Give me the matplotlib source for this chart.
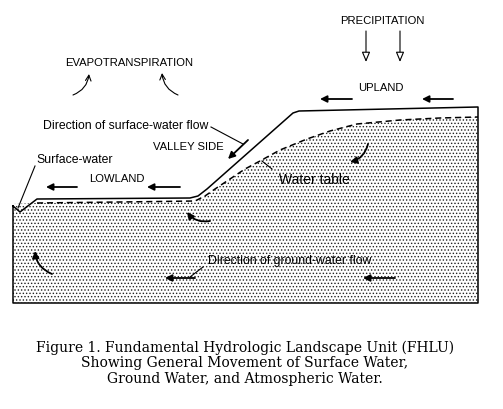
import matplotlib
matplotlib.use("Agg")
import matplotlib.pyplot as plt
from matplotlib.patches import Polygon, FancyArrowPatch

# outline of the landscape (pixel coords, y down)
land_x = [13, 20, 37, 190, 198, 207, 293, 299, 478, 478, 13, 13]
land_y = [207, 213, 200, 199, 197, 190, 114, 112, 108, 304, 304, 207]

# water table (dashed)
wt_x = [13, 37, 120, 195, 205, 215, 230, 245, 260, 280, 307, 330, 357, 400, 440, 478]
wt_y = [205, 204, 203, 202, 197, 190, 180, 170, 162, 151, 140, 132, 125, 121, 119, 118]

# straight flow arrows: (x_start, y_start, x_end, y_end)
surface_arrows = [(77, 188, 46, 188), (180, 188, 147, 188),
                  (352, 100, 320, 100), (453, 100, 422, 100),
                  (248, 141, 228, 160)]
ground_arrows = [(195, 279, 165, 279), (395, 279, 363, 279)]
precip_arrows = [(366, 32, 366, 63), (400, 32, 400, 63)]

# curved arrows: (x_start, y_start, x_end, y_end, rad)
evap_arrows = [(73, 96, 89, 75, 0.3), (178, 96, 162, 74, -0.3)]
gw_curved = [(368, 145, 350, 163, -0.3), (210, 222, 187, 213, -0.3),
             (52, 275, 35, 252, -0.3)]

# leader lines
leaders = [((211, 128), (243, 145)), ((35, 167), (18, 209)),
           ((262, 162), (272, 170)), ((203, 268), (190, 278))]

labels = [
    ("PRECIPITATION", 382, 21, "center", 8.1),
    ("UPLAND", 381, 88, "center", 8.1),
    ("EVAPOTRANSPIRATION", 129, 63, "center", 8.1),
    ("Direction of surface-water flow", 43, 126, "left", 8.8),
    ("VALLEY SIDE", 188, 147, "center", 8.1),
    ("Surface-water", 36, 160, "left", 8.8),
    ("LOWLAND", 117, 179, "center", 8.1),
    ("Water table", 279, 180, "left", 10),
    ("Direction of ground-water flow", 208, 261, "left", 8.8),
]
caption = ["Figure 1. Fundamental Hydrologic Landscape Unit (FHLU)",
           "Showing General Movement of Surface Water,",
           "Ground Water, and Atmospheric Water."]
caption_y = [348, 363, 379]

plt.rcParams["hatch.linewidth"] = 0.6
plt.rcParams["hatch.color"] = "#222222"

fig = plt.figure(figsize=(5.03, 4.10), dpi=100)
ax = fig.add_axes([0, 0, 1, 1])
ax.set_xlim(0, 503)
ax.set_ylim(410, 0)
ax.axis("off")

# stippled ground below water table
gx = wt_x + [478, 13]
gy = wt_y + [304, 304]
ground = Polygon(list(zip(gx, gy)), closed=True, fc="white", hatch=".....", lw=0)
ax.add_patch(ground)

ax.plot(land_x, land_y, color="black", lw=1.1)
ax.plot(wt_x[1:], wt_y[1:], color="black", lw=1.1, ls=(0, (4, 2.5)))

for x0, y0, x1, y1 in surface_arrows + ground_arrows:
    ax.add_patch(FancyArrowPatch((x0, y0), (x1, y1), arrowstyle="-|>,head_length=4,head_width=2",
                                 color="black", lw=1.3, shrinkA=0, shrinkB=0))
for x0, y0, x1, y1 in precip_arrows:
    ax.add_patch(FancyArrowPatch((x0, y0), (x1, y1), arrowstyle="-|>,head_length=6,head_width=2.5",
                                 fc="white", ec="black", lw=0.8, shrinkA=0, shrinkB=0))
for x0, y0, x1, y1, rad in evap_arrows:
    ax.add_patch(FancyArrowPatch((x0, y0), (x1, y1), arrowstyle="->,head_length=4,head_width=2",
                                 connectionstyle=f"arc3,rad={rad}",
                                 color="black", lw=0.8, shrinkA=0, shrinkB=0))
for x0, y0, x1, y1, rad in gw_curved:
    ax.add_patch(FancyArrowPatch((x0, y0), (x1, y1), arrowstyle="-|>,head_length=4,head_width=2",
                                 connectionstyle=f"arc3,rad={rad}",
                                 color="black", lw=1.3, shrinkA=0, shrinkB=0))
for (x0, y0), (x1, y1) in leaders:
    ax.plot([x0, x1], [y0, y1], color="black", lw=0.8)

for txt, x, y, ha, fs in labels:
    ax.text(x, y, txt, ha=ha, va="center", fontsize=fs, family="Liberation Sans")
for txt, y in zip(caption, caption_y):
    ax.text(245, y, txt, ha="center", va="center", fontsize=10, family="DejaVu Serif")

fig.savefig("out.png", dpi=100)
